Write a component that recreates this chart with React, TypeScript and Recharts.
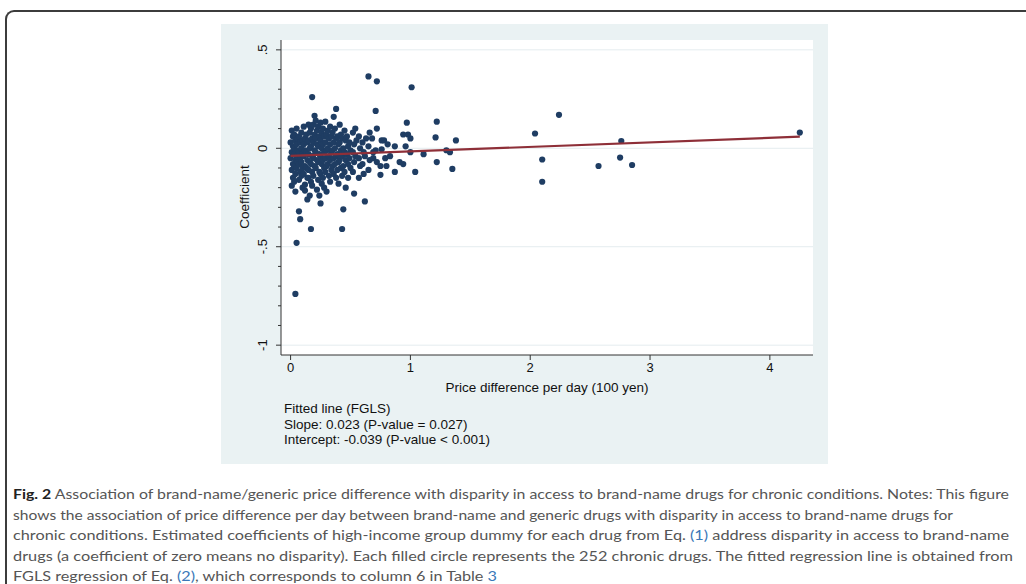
import { ScatterChart, Scatter, XAxis, YAxis, CartesianGrid, ReferenceLine } from "recharts";

const NAVY = "#1f3d63";
const MAROON = "#8e2f38";
const PANEL = "#eaf2f3";
const GRID = "#e4ecef";
const AXIS = "#333333";
const FONT = "'Liberation Sans', Arial, Helvetica, sans-serif";
const CAPTION_FONT = "Lato, 'Open Sans', sans-serif";

const X_TICKS = [0, 1, 2, 3, 4];
const Y_MAJOR = [0.5, 0, -0.5, -1];
const Y_MAJOR_LABELS = [".5", "0", "-.5", "-1"];
const Y_MINOR = [0.4, 0.3, 0.2, 0.1, -0.1, -0.2, -0.3, -0.4, -0.6, -0.7, -0.8, -0.9];

// fitted FGLS line, as printed under the chart
const SLOPE = 0.023;
const INTERCEPT = -0.039;

const FIT_NOTE = [
  "Fitted line (FGLS)",
  "Slope: 0.023 (P-value = 0.027)",
  "Intercept: -0.039 (P-value < 0.001)",
];

// [price difference per day (100 yen), coefficient]
const POINTS: [number, number][] = [
  [0.01, 0.09], [0.02, 0.06], [0.0, 0.03], [0.02, 0.01], [0.01, -0.02], [0.0, -0.05], [0.02, -0.08], [0.01, -0.11], [0.02, -0.15], [0.01, -0.19],
  [0.03, 0.07], [0.04, 0.04], [0.03, 0.0], [0.03, -0.03], [0.04, -0.06], [0.03, -0.09], [0.04, -0.13], [0.03, -0.17], [0.04, -0.22],
  [0.05, 0.1], [0.06, 0.05], [0.05, 0.02], [0.06, -0.01], [0.05, -0.04], [0.06, -0.07], [0.05, -0.1], [0.05, -0.48], [0.04, -0.74],
  [0.07, 0.06], [0.08, 0.03], [0.07, -0.02], [0.08, -0.05], [0.07, -0.08], [0.08, -0.12], [0.07, -0.16], [0.07, -0.32],
  [0.09, 0.08], [0.1, 0.04], [0.09, 0.0], [0.1, -0.03], [0.09, -0.07], [0.1, -0.1], [0.09, -0.14], [0.1, -0.2], [0.08, -0.36],
  [0.11, 0.11], [0.12, 0.05], [0.11, 0.02], [0.12, -0.01], [0.11, -0.04], [0.12, -0.09], [0.11, -0.13], [0.12, -0.185],
  [0.13, 0.07], [0.14, 0.03], [0.13, -0.02], [0.14, -0.06], [0.13, -0.1], [0.14, -0.15], [0.12, -0.215], [0.14, -0.26],
  [0.15, 0.12], [0.16, 0.08], [0.15, 0.04], [0.16, 0.0], [0.15, -0.03], [0.16, -0.07], [0.15, -0.11], [0.15, -0.15], [0.16, -0.24],
  [0.17, 0.1], [0.18, 0.05], [0.17, 0.01], [0.18, -0.04], [0.17, -0.08], [0.18, -0.12], [0.17, -0.17], [0.17, -0.41],
  [0.18, 0.26], [0.2, 0.165], [0.19, 0.12], [0.2, 0.07], [0.19, 0.03], [0.2, -0.01], [0.19, -0.05], [0.2, -0.09], [0.19, -0.14], [0.18, -0.19],
  [0.21, 0.14], [0.22, 0.09], [0.21, 0.05], [0.22, 0.02], [0.21, -0.02], [0.22, -0.06], [0.21, -0.1], [0.22, -0.21],
  [0.23, 0.11], [0.24, 0.06], [0.23, 0.01], [0.24, -0.03], [0.23, -0.07], [0.24, -0.12], [0.23, -0.16], [0.24, -0.24],
  [0.25, 0.13], [0.26, 0.08], [0.25, 0.04], [0.26, 0.0], [0.25, -0.04], [0.26, -0.08], [0.25, -0.13], [0.26, -0.18], [0.25, -0.28],
  [0.27, 0.1], [0.28, 0.06], [0.27, 0.02], [0.28, -0.02], [0.27, -0.06], [0.28, -0.1], [0.27, -0.15], [0.28, -0.2],
  [0.29, 0.135], [0.3, 0.07], [0.29, 0.03], [0.3, -0.01], [0.29, -0.05], [0.3, -0.09], [0.29, -0.12], [0.3, -0.22],
  [0.31, 0.09], [0.32, 0.05], [0.31, 0.0], [0.32, -0.04], [0.31, -0.08], [0.32, -0.14],
  [0.33, 0.11], [0.34, 0.06], [0.33, 0.02], [0.34, -0.02], [0.33, -0.06], [0.34, -0.11], [0.33, -0.17],
  [0.36, 0.16], [0.35, 0.08], [0.36, 0.03], [0.35, -0.01], [0.36, -0.05], [0.35, -0.09], [0.36, -0.13],
  [0.38, 0.2], [0.37, 0.1], [0.38, 0.05], [0.37, 0.0], [0.38, -0.04], [0.37, -0.08], [0.38, -0.15],
  [0.39, 0.06], [0.4, 0.02], [0.39, -0.03], [0.4, -0.07], [0.39, -0.11], [0.4, -0.18],
  [0.41, 0.12], [0.42, 0.07], [0.41, 0.03], [0.42, -0.01], [0.41, -0.06], [0.42, -0.1],
  [0.43, 0.05], [0.44, 0.0], [0.43, -0.04], [0.44, -0.09], [0.43, -0.14], [0.44, -0.31], [0.43, -0.41],
  [0.45, 0.09], [0.46, 0.04], [0.45, -0.02], [0.46, -0.06], [0.45, -0.12], [0.46, -0.2],
  [0.47, 0.06], [0.48, 0.01], [0.47, -0.03], [0.48, -0.08], [0.48, -0.15],
  [0.49, 0.03], [0.5, -0.01], [0.49, -0.05], [0.5, -0.1],
  [0.52, 0.08], [0.53, 0.02], [0.52, -0.02], [0.53, -0.07], [0.52, -0.12],
  [0.54, 0.1], [0.55, 0.04], [0.54, -0.04], [0.53, -0.23],
  [0.57, 0.06], [0.58, 0.0], [0.57, -0.05], [0.58, -0.09], [0.57, -0.15],
  [0.6, 0.03], [0.61, -0.02], [0.6, -0.08], [0.61, -0.13],
  [0.63, 0.05], [0.62, -0.04], [0.62, -0.27],
  [0.65, 0.365], [0.66, 0.08], [0.65, 0.01], [0.66, -0.06], [0.65, -0.11],
  [0.68, 0.05], [0.69, -0.02], [0.69, -0.05],
  [0.71, 0.19], [0.72, 0.1], [0.71, -0.01], [0.72, -0.07], [0.72, 0.34],
  [0.76, 0.04], [0.76, -0.005], [0.75, -0.09], [0.75, -0.135],
  [0.78, 0.04], [0.79, -0.05], [0.8, -0.09], [0.81, 0.02], [0.83, -0.04],
  [0.87, 0.01], [0.87, -0.12], [0.91, -0.07], [0.94, 0.07], [0.94, -0.08],
  [0.96, 0.01], [0.97, 0.13], [0.98, 0.07], [1.0, 0.05], [1.0, -0.02], [1.01, 0.31],
  [1.04, -0.12], [1.11, -0.03], [1.21, 0.055], [1.22, 0.135], [1.22, -0.07],
  [1.3, -0.01], [1.33, -0.02], [1.35, -0.105], [1.38, 0.04],
  [2.04, 0.075], [2.1, -0.057], [2.1, -0.17], [2.24, 0.17], [2.57, -0.09],
  [2.75, -0.047], [2.76, 0.037], [2.85, -0.085], [4.25, 0.08],
];

type Seg = { t: string; bold?: boolean; link?: boolean };
const CAPTION: Seg[][] = [
  [{ t: "Fig. 2", bold: true }, { t: " Association of brand-name/generic price difference with disparity in access to brand-name drugs for chronic conditions. Notes: This figure" }],
  [{ t: "shows the association of price difference per day between brand-name and generic drugs with disparity in access to brand-name drugs for" }],
  [{ t: "chronic conditions. Estimated coefficients of high-income group dummy for each drug from Eq. " }, { t: "(1)", link: true }, { t: " address disparity in access to brand-name" }],
  [{ t: "drugs (a coefficient of zero means no disparity). Each filled circle represents the 252 chronic drugs. The fitted regression line is obtained from" }],
  [{ t: "FGLS regression of Eq. " }, { t: "(2)", link: true }, { t: ", which corresponds to column 6 in Table " }, { t: "3", link: true }],
];
const CAPTION_ENDS = [1009, 953, 1009, 1013, 497];

const data = POINTS.map(([x, y]) => ({ x, y }));
const xs = POINTS.map((p) => p[0]);
const fitLo = Math.min(...xs);
const fitHi = Math.max(...xs);
const fit = [
  { x: fitLo, y: INTERCEPT + SLOPE * fitLo },
  { x: fitHi, y: INTERCEPT + SLOPE * fitHi },
];

const YTick = ({ x, y, payload }: any) => {
  const i = Y_MAJOR.findIndex((v) => Math.abs(v - payload.value) < 1e-6);
  const major = i >= 0;
  return (
    <g>
      <line x1={x - (major ? 5 : 3)} x2={x} y1={y} y2={y} stroke={AXIS} strokeWidth={1} />
      {major && (
        <text x={x - 14} y={y} transform={`rotate(-90 ${x - 14} ${y})`} textAnchor="middle"
          fontSize={13} fontFamily={FONT} fill="#111">
          {Y_MAJOR_LABELS[i]}
        </text>
      )}
    </g>
  );
};

const Dot = (p: any) => <circle cx={p.cx} cy={p.cy} r={3.1} fill={NAVY} />;

export default function App() {
  return (
    <div style={{ position: "absolute", left: 0, top: 0, width: 1026, height: 584, overflow: "hidden", background: "#fff" }}>
      <div style={{
        position: "absolute", left: 5, top: 10, width: 1100, height: 700,
        borderTop: "2px solid #3c3c3c", borderLeft: "2px solid #3c3c3c", borderTopLeftRadius: 9,
      }} />
      <div style={{ position: "absolute", left: 221, top: 24, width: 607, height: 440, background: PANEL }} />
      <div style={{ position: "absolute", left: 222, top: 24 }}>
        <ScatterChart width={605} height={439} margin={{ top: 16, right: 14, left: 0, bottom: 68 }}>
          <CartesianGrid fill="#ffffff" horizontal={false} vertical={false} />
          {Y_MAJOR.map((v) => (
            <ReferenceLine key={v} y={v} stroke={GRID} strokeWidth={1} />
          ))}
          <XAxis type="number" dataKey="x" domain={[-0.08, 4.36]} allowDataOverflow ticks={X_TICKS}
            height={40} tickSize={5} tickMargin={3} stroke={AXIS}
            tick={{ fontSize: 13, fontFamily: FONT, fill: "#111" }} />
          <YAxis type="number" dataKey="y" domain={[-1.05, 0.55]} allowDataOverflow
            ticks={[...Y_MAJOR, ...Y_MINOR]} width={59} tickSize={0} tickMargin={0} tickLine={false}
            stroke={AXIS} tick={<YTick />} interval={0} />
          <Scatter data={data} shape={Dot} isAnimationActive={false} />
          <Scatter data={fit} shape={() => <g />} line={{ stroke: MAROON, strokeWidth: 2.2 }}
            lineType="joint" isAnimationActive={false} />
        </ScatterChart>
      </div>
      <svg width={1026} height={584} style={{ position: "absolute", left: 0, top: 0, pointerEvents: "none" }}>
        <text x={249} y={197} transform="rotate(-90 249 197)" textAnchor="middle" fontSize={13.5}
          fontFamily={FONT} fill="#111">Coefficient</text>
        <text x={547} y={392} textAnchor="middle" fontSize={13.5} fontFamily={FONT} fill="#111">
          Price difference per day (100 yen)
        </text>
        {FIT_NOTE.map((s, i) => (
          <text key={i} x={284} y={413 + i * 15.5} fontSize={13.5} fontFamily={FONT} fill="#111">{s}</text>
        ))}
        {CAPTION.map((line, i) => (
          <text key={i} x={13} y={499 + i * 20.5} fontSize={14} fontFamily={CAPTION_FONT} fill="#555"
            textLength={CAPTION_ENDS[i] - 13} lengthAdjust="spacingAndGlyphs">
            {line.map((s, j) => (
              <tspan key={j} fontWeight={s.bold ? 700 : 400} fill={s.bold ? "#222" : s.link ? "#3b78b8" : "#555"}>
                {s.t}
              </tspan>
            ))}
          </text>
        ))}
      </svg>
    </div>
  );
}
